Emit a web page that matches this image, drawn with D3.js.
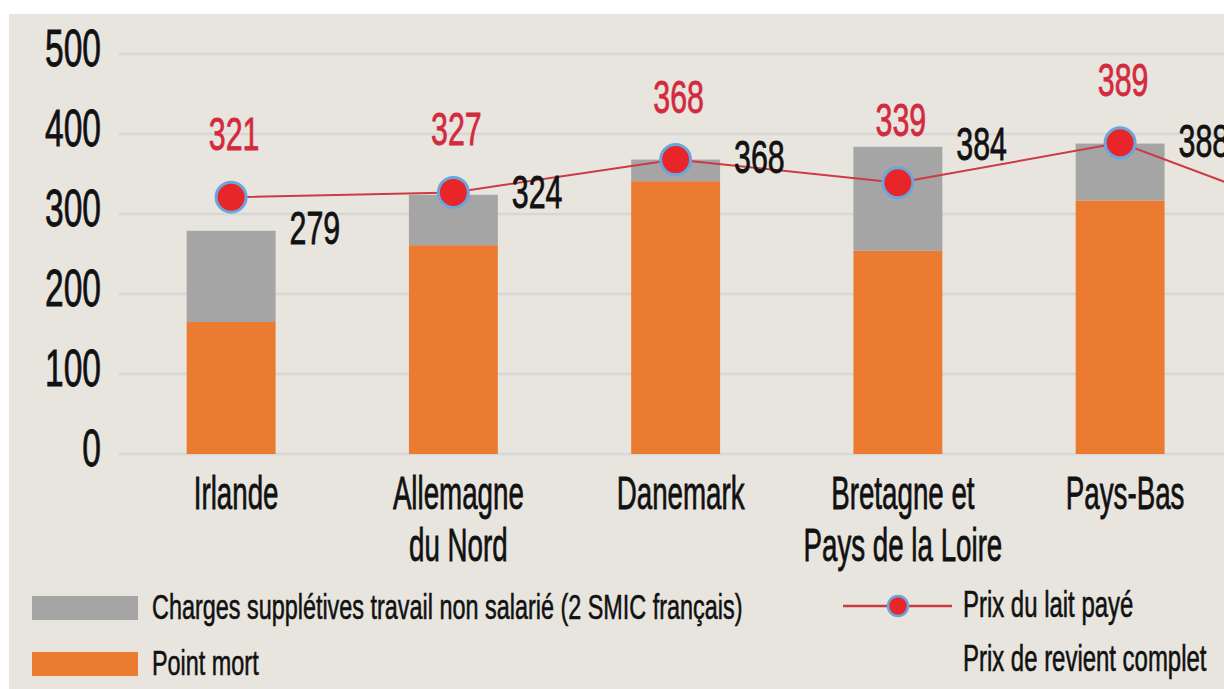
<!DOCTYPE html>
<html><head><meta charset="utf-8">
<script src="https://cdn.jsdelivr.net/npm/d3@7"></script>
<style>html,body{margin:0;padding:0;background:#fff;} svg{display:block;}</style>
</head><body>
<svg id="chart" width="1224" height="689"></svg>
<script>
// ---- data ----
const categories = ["Irlande", "Allemagne\ndu Nord", "Danemark", "Bretagne et\nPays de la Loire", "Pays-Bas", ""];
const pointMort = [165, 261, 341, 254, 317, null];
const chargesSuppletives = [114, 63, 27, 130, 71, null];
const prixRevientComplet = [279, 324, 368, 384, 388, null];
const prixLaitPaye = [321, 327, 368, 339, 389, 285];
const yTicks = [0, 100, 200, 300, 400, 500];
const legendLabels = ["Charges supplétives travail non salarié (2 SMIC français)", "Point mort", "Prix du lait payé", "Prix de revient complet"];

// ---- setup ----
const W = 1224, H = 689;
const FONT = "'Liberation Sans', Arial, sans-serif";
const C = {bg: "#e8e5df", grid: "#d7d7d5", orange: "#ea7b30", gray: "#a5a5a5", line: "#cc3a44", dot: "#e8262a", ring: "#6aa6dc", red: "#d42a3e", black: "#111"};
const svg = d3.select("#chart");

svg.append("rect").attr("width", W).attr("height", H).attr("fill", "#fff");
svg.append("rect").attr("x", 9).attr("y", 14).attr("width", W - 9).attr("height", H - 14).attr("fill", C.bg);

const x = d3.scaleBand().domain(d3.range(categories.length)).range([120, 1453.5]).paddingInner(0.6).paddingOuter(0.3);
const y = d3.scaleLinear().domain([0, 500]).range([454, 54]);

function txt(g, px, py, s, o) {
  return g.append("text")
    .attr("transform", `translate(${px},${py}) scale(${o.sx},1)`)
    .attr("text-anchor", o.anchor || "start")
    .attr("font-family", FONT)
    .attr("font-size", o.size)
    .attr("fill", o.fill || C.black)
    .attr("stroke", o.fill || C.black)
    .attr("stroke-width", o.sw == null ? 0.8 : o.sw)
    .text(s);
}

// grid
const grid = svg.append("g");
grid.selectAll("line").data(yTicks).join("line")
  .attr("x1", 119).attr("x2", W).attr("y1", d => y(d)).attr("y2", d => y(d))
  .attr("stroke", C.grid).attr("stroke-width", 2.5);

// y axis labels
const yl = svg.append("g");
yTicks.forEach(t => txt(yl, 101, y(t) + 12, String(t), {size: 52, sx: 0.645, anchor: "end"}));

// bars
const bars = svg.append("g");
categories.forEach((c, i) => {
  if (pointMort[i] == null) return;
  bars.append("rect").attr("x", x(i)).attr("width", x.bandwidth())
    .attr("y", y(pointMort[i])).attr("height", y(0) - y(pointMort[i])).attr("fill", C.orange);
  const top = pointMort[i] + chargesSuppletives[i];
  bars.append("rect").attr("x", x(i)).attr("width", x.bandwidth())
    .attr("y", y(top)).attr("height", y(pointMort[i]) - y(top)).attr("fill", C.gray);
});

// line
const cx = i => x(i) + x.bandwidth() / 2;
svg.append("path").datum(prixLaitPaye)
  .attr("d", d3.line().x((d, i) => cx(i)).y(d => y(d)))
  .attr("fill", "none").attr("stroke", C.line).attr("stroke-width", 2);
svg.append("g").selectAll("circle").data(prixLaitPaye).join("circle")
  .attr("cx", (d, i) => cx(i)).attr("cy", d => y(d)).attr("r", 15)
  .attr("fill", C.dot).attr("stroke", C.ring).attr("stroke-width", 3);

// value labels
const lab = svg.append("g");
prixLaitPaye.forEach((v, i) => {
  txt(lab, cx(i) + 3, y(v) - 47, String(v), {size: 46, sx: 0.66, anchor: "middle", fill: C.red});
});
prixRevientComplet.forEach((v, i) => {
  if (v == null) return;
  txt(lab, x(i) + x.bandwidth() + 14, y(v) + 13, String(v), {size: 46, sx: 0.66, anchor: "start"});
});

// category labels
const cl = svg.append("g");
categories.forEach((c, i) => {
  c.split("\n").forEach((line, k) => {
    txt(cl, cx(i) + 5, 509 + k * 52, line, {size: 47, sx: 0.59, anchor: "middle"});
  });
});

// legend
const lg = svg.append("g");
lg.append("rect").attr("x", 32).attr("y", 596).attr("width", 106).attr("height", 24).attr("fill", C.gray);
lg.append("rect").attr("x", 32).attr("y", 652).attr("width", 106).attr("height", 24).attr("fill", C.orange);
txt(lg, 152, 619, legendLabels[0], {size: 36, sx: 0.65, sw: 0.6});
txt(lg, 152, 675, legendLabels[1], {size: 36, sx: 0.65, sw: 0.6});
lg.append("line").attr("x1", 843).attr("x2", 952).attr("y1", 606).attr("y2", 606).attr("stroke", C.line).attr("stroke-width", 2.5);
lg.append("circle").attr("cx", 898).attr("cy", 606).attr("r", 10).attr("fill", C.dot).attr("stroke", C.ring).attr("stroke-width", 2.5);
txt(lg, 963, 617, legendLabels[2], {size: 36, sx: 0.665, sw: 0.6});
txt(lg, 963, 671, legendLabels[3], {size: 36, sx: 0.665, sw: 0.6});
</script>
</body></html>
